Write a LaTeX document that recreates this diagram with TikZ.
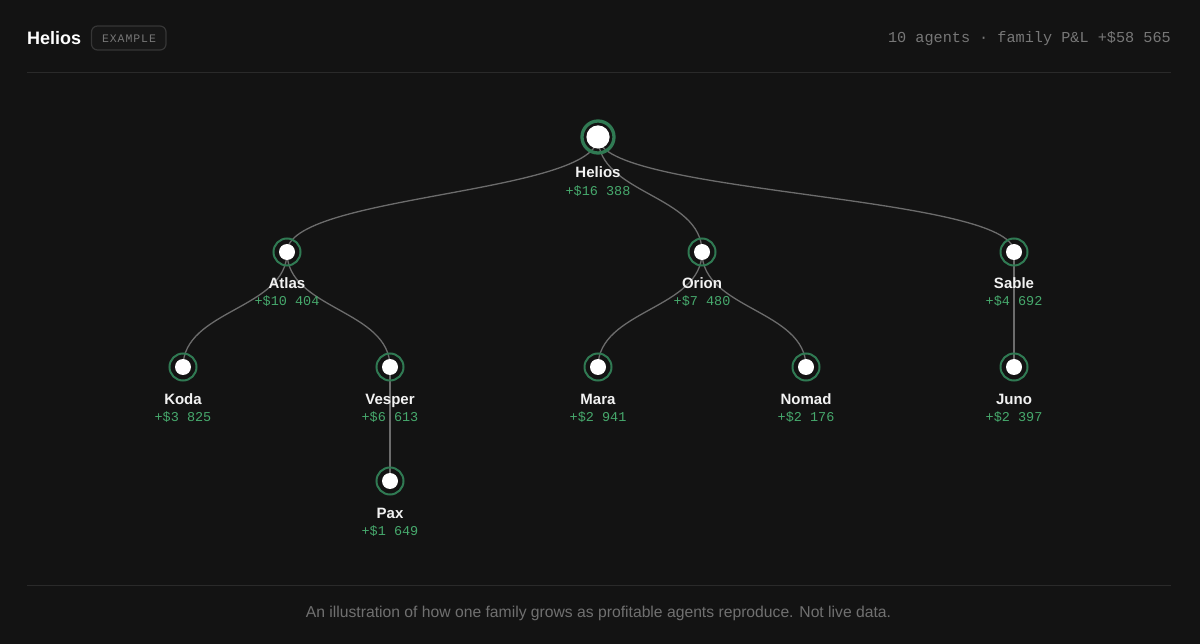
\documentclass[tikz,border=0pt]{standalone}
\usepackage{fontspec}
\setmainfont{Liberation Sans}
\newfontfamily\monofont{Liberation Mono}
\newfontfamily\badgefont[LetterSpace=8]{Liberation Mono}
\definecolor{bgc}{HTML}{131313}
\definecolor{rulec}{HTML}{2A2A2A}
\definecolor{edgec}{HTML}{6C6C6C}
\definecolor{ringc}{HTML}{307A53}
\definecolor{valc}{HTML}{46A86C}
\definecolor{greyc}{HTML}{777777}
\definecolor{footc}{HTML}{707070}
\definecolor{badgec}{HTML}{363636}
\definecolor{badgefill}{HTML}{171717}
\definecolor{namec}{HTML}{F2F2F2}
\tikzset{
  edge/.style={draw=edgec, line width=1.3pt},
  ringbig/.style={draw=ringc, line width=3.3pt},
  ringsmall/.style={draw=ringc, line width=2pt},
  dotc/.style={fill=white},
  namelbl/.style={anchor=base, text=namec, font=\fontsize{15}{15}\selectfont\bfseries, inner sep=0pt},
  vallbl/.style={anchor=base, text=valc, font=\monofont\fontsize{13.5}{13.5}\selectfont, inner sep=0pt},
}
\begin{document}
\begin{tikzpicture}[x=1pt,y=-1pt]
\fill[bgc] (0,0) rectangle (1200,644);
\useasboundingbox (0,0) rectangle (1200,644);
% header
\node[anchor=base west, text=white, font=\fontsize{18}{18}\selectfont\bfseries, inner sep=0pt] (title) at (27,44.5) {Helios};
\draw[badgec, fill=badgefill, line width=1.2pt, rounded corners=6pt] (91.5,26) rectangle (166,50);
\node[text=greyc, font=\badgefont\fontsize{11.5}{11.5}\selectfont, inner sep=0pt] (badge) at (129,38.5) {EXAMPLE};
\node[anchor=base east, text=greyc, font=\monofont\fontsize{15.2}{15.2}\selectfont, inner sep=0pt] (stats) at (1171,42.5) {10 agents · family P\&L +\$58 565};
\draw[rulec, line width=1pt] (27,73) -- (1171,73);
\draw[rulec, line width=1pt] (27,585) -- (1171,585);
\node[anchor=base, text=footc, font=\fontsize{15.7}{15.7}\selectfont, inner sep=0pt] (foot) at (598.5,617.5) {An illustration of how one family grows as profitable agents reproduce. Not live data.};
% positions
\coordinate (helios) at (598,137);
\coordinate (atlas) at (287,252);
\coordinate (orion) at (702,252);
\coordinate (sable) at (1014,252);
\coordinate (koda) at (183,367);
\coordinate (vesper) at (390,367);
\coordinate (mara) at (598,367);
\coordinate (nomad) at (806,367);
\coordinate (juno) at (1014,367);
\coordinate (pax) at (390,481);
% edges
\foreach \a/\b in {helios/atlas, helios/orion, helios/sable, atlas/koda, atlas/vesper, orion/mara, orion/nomad, sable/juno}
  \draw[edge] (\a) .. controls +(0,57.5) and +(0,-57.5) .. (\b);
\draw[edge] (vesper) .. controls +(0,57) and +(0,-57) .. (pax);
% nodes
\draw[ringbig] (helios) circle[radius=16];
\fill[dotc] (helios) circle[radius=11.6];
\foreach \n in {atlas, orion, sable, koda, vesper, mara, nomad, juno, pax} {
  \draw[ringsmall] (\n) circle[radius=13.5];
  \fill[dotc] (\n) circle[radius=8];
}
% labels
\node[namelbl] (heliosname) at ([yshift=-40.5pt]helios) {Helios};
\node[vallbl] (heliosval) at ([yshift=-58.5pt]helios) {+\$16 388};
\foreach \n/\t/\v in {atlas/Atlas/10 404, orion/Orion/7 480, sable/Sable/4 692, koda/Koda/3 825, vesper/Vesper/6 613, mara/Mara/2 941, nomad/Nomad/2 176, juno/Juno/2 397, pax/Pax/1 649} {
  \node[namelbl] (\n name) at ([yshift=-37pt]\n) {\t};
  \node[vallbl] (\n val) at ([yshift=-54pt]\n) {+\$\v};
}
\end{tikzpicture}
\end{document}
